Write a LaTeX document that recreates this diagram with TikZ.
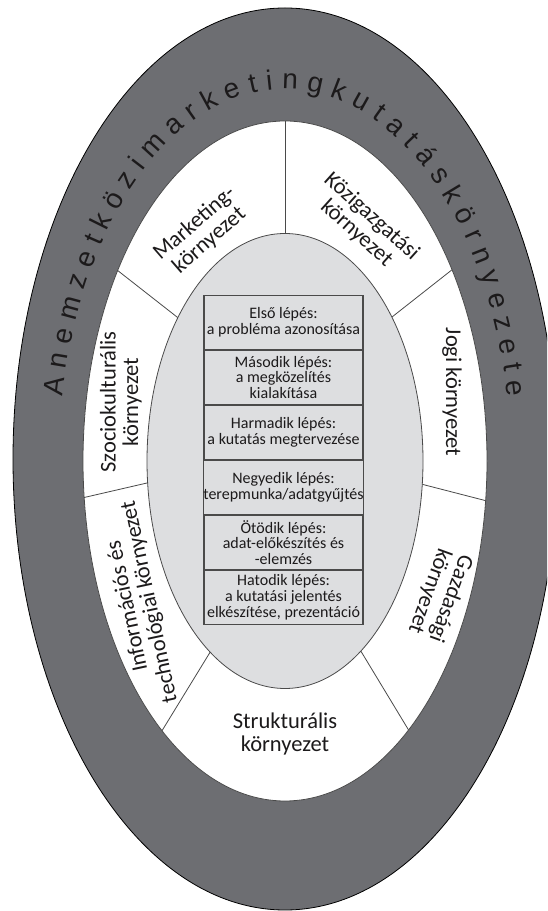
\documentclass[tikz,border=0pt]{standalone}
\usepackage{fontspec}
\setmainfont{Carlito}
\newfontfamily\arialf{Liberation Sans}
\usetikzlibrary{decorations.text,calc}
\definecolor{band}{HTML}{6D6E72}
\definecolor{core}{HTML}{DDDEE0}
\definecolor{ink}{HTML}{1C1A1B}
\definecolor{edge}{HTML}{4A4A4A}
\tikzset{
 seglabel/.style={align=center, font=\fontsize{22.5}{22.5}\selectfont, text=ink, inner sep=0pt},
 steprow/.style={draw=edge, line width=1.2pt, fill=core, minimum width=159pt, minimum height=53.8pt, inner sep=0pt, align=center, font=\fontsize{16}{15.8}\selectfont, text=ink, anchor=north},
 divider/.style={draw=edge, line width=0.8pt},
}
\begin{document}
\begin{tikzpicture}[x=1pt,y=1pt]
\useasboundingbox (0,0) rectangle (547,911);
\clip (0,0) rectangle (547,911);
\coordinate (C) at (285,450);
% outer band
\filldraw[fill=band, draw=black, line width=0.8pt] (285,452) ellipse [x radius=272, y radius=451];
% white ring
\fill[white] (C) ellipse [x radius=202, y radius=340];
\coordinate (i1) at (285,677); \coordinate (o1) at (285,789);
\coordinate (i2) at (177,594); \coordinate (o2) at (117,641);
\coordinate (i3) at (392,594); \coordinate (o3) at (453,642);
\coordinate (i4) at (147,428); \coordinate (o4) at (82,413);
\coordinate (i5) at (421,427); \coordinate (o5) at (487,410);
\coordinate (i6) at (209,257); \coordinate (o6) at (160,177);
\coordinate (i7) at (362,258); \coordinate (o7) at (411,177);
\begin{scope}
\clip (C) ellipse [x radius=202, y radius=340];
\foreach \n in {1,...,7}
  \draw[divider] ($(i\n)!-0.5!(o\n)$) -- ($(o\n)!-0.5!(i\n)$);
\end{scope}
\draw[edge, line width=0.8pt] (C) ellipse [x radius=202, y radius=340];
% grey core
\filldraw[fill=core, draw=edge, line width=0.8pt] (C) ellipse [x radius=138, y radius=227.5];
% steps
\node[steprow] (s1) at (283.5,616) {Első lépés:\\a probléma azonosítása};
\node[steprow] (s2) at (s1.south) {Második lépés:\\a megközelítés\\kialakítása};
\node[steprow] (s3) at (s2.south) {Harmadik lépés:\\a kutatás megtervezése};
\node[steprow] (s4) at (s3.south) {Negyedik lépés:\\terepmunka/adatgyűjtés};
\node[steprow] (s5) at (s4.south) {Ötödik lépés:\\adat-előkészítés és\\-elemzés};
\node[steprow] (s6) at (s5.south) {Hatodik lépés:\\a kutatási jelentés\\elkészítése, prezentáció};
% segment labels
\node[seglabel, rotate=41] (mk) at (202,679) {Marketing-\\környezet};
\node[seglabel, rotate=-42] (kz) at (364,686) {Közigazgatási\\környezet};
\node[seglabel, rotate=-90] (jg) at (452,519) {Jogi környezet};
\node[seglabel, rotate=90] (sz) at (121,509) {Szociokulturális\\környezet};
\node[seglabel, rotate=102] (it) at (139,307) {Információs és\\technológiai környezet};
\node[seglabel, rotate=-110] (gz) at (440,316) {Gazdasági\\környezet};
\node[seglabel] (st) at (285,177) {Strukturális\\környezet};
% outer title along the band
\path[decorate, decoration={text along path, text align={fit to path}, text color=ink,
  text={|\arialf\fontsize{28}{28}\selectfont|Anemzetközimarketingkutatáskörnyezete}}]
  ({285+226*cos(170)},{450+372*sin(170)}) arc [start angle=170, end angle=10, x radius=226, y radius=372];
\end{tikzpicture}
\end{document}
